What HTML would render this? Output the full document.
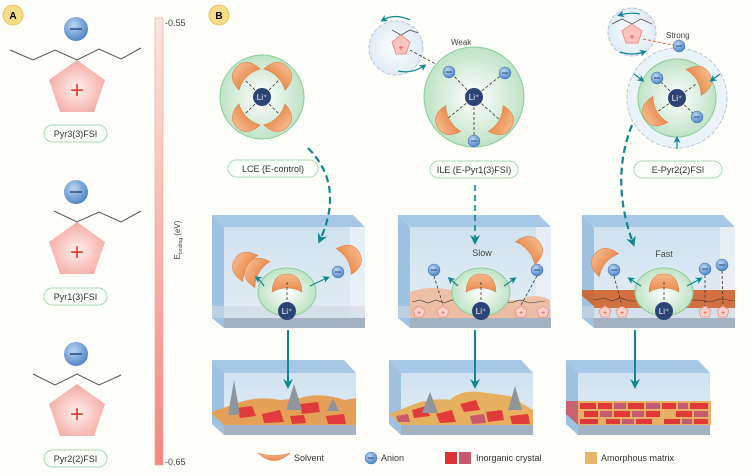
<!DOCTYPE html>
<html><head><meta charset="utf-8"><style>
html,body{margin:0;padding:0;background:#fdfdf9;}
svg{display:block;font-family:"Liberation Sans",sans-serif;}
</style></head><body>
<svg width="750" height="476" viewBox="0 0 750 476" xmlns="http://www.w3.org/2000/svg">
<defs>
<radialGradient id="an" cx="40%" cy="35%" r="65%"><stop offset="0" stop-color="#bcd6f2"/><stop offset="1" stop-color="#4f86c6"/></radialGradient>
<radialGradient id="pent" cx="50%" cy="55%" r="60%"><stop offset="0" stop-color="#fff0ee"/><stop offset="1" stop-color="#f3a39b"/></radialGradient>
<radialGradient id="grn" cx="50%" cy="50%" r="55%"><stop offset="0" stop-color="#ffffff"/><stop offset="1" stop-color="#b9e0c0"/></radialGradient>
<radialGradient id="blu" cx="50%" cy="50%" r="55%"><stop offset="0" stop-color="#ffffff"/><stop offset="1" stop-color="#dceaf3"/></radialGradient>
<linearGradient id="bar" x1="0" y1="0" x2="0" y2="1"><stop offset="0" stop-color="#fde4e1"/><stop offset="1" stop-color="#f2877d"/></linearGradient>
<linearGradient id="sol" x1="0" y1="0" x2="0" y2="1"><stop offset="0" stop-color="#f6b98a"/><stop offset="1" stop-color="#e98a4e"/></linearGradient>
<linearGradient id="glass" x1="0" y1="0" x2="0" y2="1"><stop offset="0" stop-color="#cfe2f0"/><stop offset="1" stop-color="#e2edf4"/></linearGradient>
<g id="anion"><circle r="6" fill="url(#an)" stroke="#3f74b3" stroke-width="0.5"/><line x1="-3" y1="0" x2="3" y2="0" stroke="#1e4a80" stroke-width="1"/></g>
<g id="bigan"><circle r="12" fill="url(#an)"/><line x1="-6" y1="0" x2="6" y2="0" stroke="#1e4a80" stroke-width="1.5"/></g>
<g id="li"><circle r="9" fill="#2c4475"/><text x="0" y="3" font-size="8" fill="#fff" text-anchor="middle">Li⁺</text></g>
<path id="solv" d="M-15,5 Q-14,-13 0,-13 Q14,-13 15,5 Q0,-3 -15,5Z" fill="url(#sol)" stroke="#e08148" stroke-width="0.6"/>
<g id="minipent"><polygon points="0,-6 6,-2 4,5 -4,5 -6,-2" fill="#f9d2cc" stroke="#ee8f86" stroke-width="0.8"/><text x="0" y="3" font-size="7" fill="#e0433a" text-anchor="middle">+</text></g>
<marker id="ah" markerWidth="10" markerHeight="10" refX="6" refY="5" orient="auto" markerUnits="userSpaceOnUse"><path d="M0,0 L10,5 L0,10 L3,5Z" fill="#11878d"/></marker>
<marker id="ahs" markerWidth="7" markerHeight="7" refX="4" refY="3.5" orient="auto" markerUnits="userSpaceOnUse"><path d="M0,0 L7,3.5 L0,7 L2,3.5Z" fill="#11878d"/></marker>
</defs>

<!-- Panel A -->
<circle cx="13" cy="15" r="10" fill="#f8dd88" stroke="#e4c25d"/><text x="13" y="19" font-size="10" font-weight="bold" text-anchor="middle">A</text>
<g>
 <use href="#bigan" x="76" y="29"/>
 <polyline points="10,50 33,60 55,50 77,60 99,49 121,59 141,48" fill="none" stroke="#555" stroke-width="1"/>
 <polygon points="77,60 105,80 94,112 60,112 49,80" fill="url(#pent)"/>
 <text x="77" y="98" font-size="24" fill="#e0433a" text-anchor="middle">+</text>
 <rect x="44" y="125" width="63" height="17" rx="8.5" fill="#fafff9" stroke="#a9d9b1"/>
 <text x="75.5" y="137" font-size="9" text-anchor="middle" fill="#333">Pyr3(3)FSI</text>
</g>
<g>
 <use href="#bigan" x="76" y="192"/>
 <polyline points="54,211 77,222 99,212 121,222 141,211" fill="none" stroke="#555" stroke-width="1"/>
 <polygon points="77,222 105,242 94,274 60,274 49,242" fill="url(#pent)"/>
 <text x="77" y="260" font-size="24" fill="#e0433a" text-anchor="middle">+</text>
 <rect x="44" y="288" width="63" height="17" rx="8.5" fill="#fafff9" stroke="#a9d9b1"/>
 <text x="75.5" y="300" font-size="9" text-anchor="middle" fill="#333">Pyr1(3)FSI</text>
</g>
<g>
 <use href="#bigan" x="76" y="354"/>
 <polyline points="33,374 55,385 77,374 99,385 121,375" fill="none" stroke="#555" stroke-width="1"/>
 <polygon points="77,384 105,404 94,436 60,436 49,404" fill="url(#pent)"/>
 <text x="77" y="422" font-size="24" fill="#e0433a" text-anchor="middle">+</text>
 <rect x="44" y="450" width="63" height="17" rx="8.5" fill="#fafff9" stroke="#a9d9b1"/>
 <text x="75.5" y="462" font-size="9" text-anchor="middle" fill="#333">Pyr2(2)FSI</text>
</g>
<rect x="155" y="18" width="8" height="447" fill="url(#bar)" stroke="#f3a09a" stroke-width="0.6"/>
<text x="165" y="26" font-size="9" fill="#444">-0.55</text>
<text x="165" y="465" font-size="9" fill="#444">-0.65</text>
<text transform="translate(180,240) rotate(-90)" font-size="8" fill="#444" text-anchor="middle">E<tspan font-size="5" dy="2">binding</tspan><tspan dy="-2"> (eV)</tspan></text>

<!-- Panel B -->
<circle cx="219" cy="15" r="10" fill="#f8dd88" stroke="#e4c25d"/><text x="219" y="19" font-size="10" font-weight="bold" text-anchor="middle">B</text>

<!-- LCE cluster -->
<circle cx="262" cy="97" r="42" fill="url(#grn)" stroke="#8ccc98"/>
<g stroke="#333" stroke-dasharray="3,2" stroke-width="0.8"><line x1="262" y1="97" x2="243" y2="78"/><line x1="262" y1="97" x2="281" y2="78"/><line x1="262" y1="97" x2="243" y2="116"/><line x1="262" y1="97" x2="281" y2="116"/></g>
<use href="#solv" transform="translate(246,76) rotate(-45)"/>
<use href="#solv" transform="translate(278,76) rotate(45)"/>
<use href="#solv" transform="translate(246,118) rotate(-135)"/>
<use href="#solv" transform="translate(278,118) rotate(135)"/>
<use href="#li" x="262" y="97"/>
<rect x="228" y="160" width="90" height="17" rx="8.5" fill="#fafff9" stroke="#a9d9b1"/>
<text x="273" y="172" font-size="9" text-anchor="middle" fill="#333">LCE (E-control)</text>

<!-- ILE cluster -->
<circle cx="396" cy="48" r="27" fill="url(#blu)" stroke="#b8c8d4" stroke-dasharray="4,2"/>
<polyline points="392,30 401,35 410,30 418,33" fill="none" stroke="#555" stroke-width="0.8"/>
<polygon points="401,35 410,42 406,54 396,54 392,42" fill="#f9c4bd" stroke="#ee8f86"/>
<text x="401" y="51" font-size="9" fill="#e0433a" text-anchor="middle">+</text>
<path d="M410,20 Q395,13 383,20" fill="none" stroke="#11878d" stroke-width="1.2" marker-end="url(#ahs)"/>
<path d="M398,71 Q412,74 424,66" fill="none" stroke="#11878d" stroke-width="1.2" marker-end="url(#ahs)"/>
<text x="451" y="45" font-size="8" fill="#444">Weak</text>
<line x1="410" y1="50" x2="450" y2="72" stroke="#333" stroke-dasharray="3,2" stroke-width="0.8"/>
<circle cx="474" cy="97" r="50" fill="url(#grn)" stroke="#8ccc98"/>
<g stroke="#333" stroke-dasharray="3,2" stroke-width="0.8"><line x1="474" y1="97" x2="450" y2="72"/><line x1="474" y1="97" x2="504" y2="73"/><line x1="474" y1="97" x2="447" y2="119"/><line x1="474" y1="97" x2="500" y2="120"/><line x1="474" y1="97" x2="474" y2="140"/></g>
<use href="#anion" x="449" y="72"/><use href="#anion" x="505" y="73"/><use href="#anion" x="474" y="141"/>
<use href="#solv" transform="translate(449,121) rotate(-120)"/>
<use href="#solv" transform="translate(500,121) rotate(120)"/>
<use href="#li" x="474" y="97"/>
<rect x="430" y="161" width="88" height="17" rx="8.5" fill="#fafff9" stroke="#a9d9b1"/>
<text x="474" y="173" font-size="9" text-anchor="middle" fill="#333">ILE (E-Pyr1(3)FSI)</text>

<!-- E-Pyr2 cluster -->
<circle cx="632" cy="32" r="24" fill="url(#blu)" stroke="#b8c8d4" stroke-dasharray="4,2"/>
<polyline points="612,24 622,19 632,24 641,19 652,24" fill="none" stroke="#555" stroke-width="0.8"/>
<polygon points="632,24 642,31 638,43 626,43 622,31" fill="#f9c4bd" stroke="#ee8f86"/>
<text x="632" y="40" font-size="9" fill="#e0433a" text-anchor="middle">+</text>
<path d="M640,14 Q630,12 620,15" fill="none" stroke="#11878d" stroke-width="1.2" marker-end="url(#ahs)"/>
<path d="M620,52 Q632,56 644,52" fill="none" stroke="#11878d" stroke-width="1.2" marker-end="url(#ahs)"/>
<line x1="643" y1="39" x2="677" y2="46" stroke="#e06a3a" stroke-dasharray="3,2" stroke-width="1"/>
<text x="666" y="38" font-size="8" fill="#444">Strong</text>
<circle cx="677" cy="98" r="50" fill="#eaf3f8" stroke="#b8c8d4" stroke-dasharray="4,2"/>
<circle cx="677" cy="98" r="39" fill="url(#grn)" stroke="#8ccc98"/>
<use href="#anion" x="679" y="46"/>
<g stroke="#333" stroke-dasharray="3,2" stroke-width="0.8"><line x1="677" y1="98" x2="657" y2="78"/><line x1="677" y1="98" x2="696" y2="84"/><line x1="677" y1="98" x2="657" y2="112"/><line x1="677" y1="98" x2="697" y2="117"/></g>
<use href="#anion" x="657" y="78"/><use href="#anion" x="697" y="117"/>
<use href="#solv" transform="translate(698,80) rotate(60)"/>
<use href="#solv" transform="translate(656,112) rotate(-120)"/>
<use href="#li" x="677" y="98"/>
<line x1="634" y1="74" x2="642" y2="80" stroke="#11878d" stroke-width="1.2" marker-end="url(#ahs)"/>
<line x1="720" y1="74" x2="712" y2="80" stroke="#11878d" stroke-width="1.2" marker-end="url(#ahs)"/>
<line x1="677" y1="149" x2="677" y2="139" stroke="#11878d" stroke-width="1.2" marker-end="url(#ahs)"/>
<rect x="634" y="161" width="88" height="17" rx="8.5" fill="#fafff9" stroke="#a9d9b1"/>
<text x="678" y="173" font-size="9" text-anchor="middle" fill="#333">E-Pyr2(2)FSI</text>

<!-- Middle boxes -->
<g id="box1">
 <polygon points="212,215 353,215 365,227 224,227" fill="#a7c8e4"/>
 <rect x="224" y="227" width="141" height="91" fill="url(#glass)"/>
 <polygon points="212,215 224,227 224,328 212,318" fill="#9fc2e0"/>
 <rect x="350" y="227" width="15" height="91" fill="#eef3f6" opacity="0.7"/>
 <rect x="224" y="318" width="141" height="10" fill="#a3b1c1"/>
 <rect x="212" y="306" width="153" height="12" fill="#cfd8e2" opacity="0.6"/>
</g>
<use href="#box1" x="186"/>
<use href="#box1" x="370"/>

<!-- box1 contents -->
<use href="#solv" transform="translate(246,266) rotate(-60)"/>
<use href="#solv" transform="translate(258,272) rotate(-60)"/>
<use href="#solv" transform="translate(348,259) rotate(60)"/>
<use href="#anion" x="338" y="272"/>
<ellipse cx="287" cy="292" rx="29" ry="24" fill="url(#grn)" stroke="#8ccc98"/>
<use href="#solv" transform="translate(287,287)"/>
<line x1="287" y1="282" x2="287" y2="304" stroke="#333" stroke-dasharray="3,2" stroke-width="0.8"/>
<use href="#li" x="287" y="311"/>
<path d="M264,286 Q260,280 257,278" fill="none" stroke="#11878d" stroke-width="1.2" marker-end="url(#ahs)"/>
<path d="M310,286 Q318,282 327,278" fill="none" stroke="#11878d" stroke-width="1.2" marker-end="url(#ahs)"/>

<!-- box2 contents -->
<path d="M410,318 L410,292 Q430,285 450,290 Q470,283 480,300 L520,300 Q535,292 550,300 L550,318Z" fill="#f0b493" opacity="0.8"/>
<polyline points="412,302 420,300 428,303 436,300 444,303 452,300 460,302 500,301 510,303 520,300 530,303 545,301" fill="none" stroke="#333" stroke-width="0.6"/>
<use href="#minipent" x="419" y="312"/><use href="#minipent" x="443" y="312"/><use href="#minipent" x="521" y="312"/><use href="#minipent" x="543" y="312"/>
<text x="482" y="256" font-size="9" fill="#444" text-anchor="middle">Slow</text>
<use href="#anion" x="434" y="270"/><use href="#anion" x="537" y="270"/>
<line x1="434" y1="276" x2="443" y2="305" stroke="#333" stroke-dasharray="3,2" stroke-width="0.8"/>
<line x1="537" y1="276" x2="521" y2="305" stroke="#333" stroke-dasharray="3,2" stroke-width="0.8"/>
<use href="#solv" transform="translate(529,250) rotate(50)"/>
<ellipse cx="481" cy="292" rx="29" ry="24" fill="url(#grn)" stroke="#8ccc98"/>
<use href="#solv" transform="translate(481,287)"/>
<line x1="481" y1="282" x2="481" y2="304" stroke="#333" stroke-dasharray="3,2" stroke-width="0.8"/>
<use href="#li" x="481" y="311"/>
<path d="M458,286 L450,279" fill="none" stroke="#11878d" stroke-width="1.2" marker-end="url(#ahs)"/>
<path d="M504,286 L514,279" fill="none" stroke="#11878d" stroke-width="1.2" marker-end="url(#ahs)"/>

<!-- box3 contents -->
<rect x="594" y="290" width="141" height="18" fill="#d2713f"/>
<polygon points="582,290 594,290 594,306 582,296" fill="#c96a3c"/>
<polyline points="594,300 604,298 612,301 620,298 630,301 700,300 710,302 720,299 735,301" fill="none" stroke="#333" stroke-width="0.6"/>
<use href="#minipent" x="605" y="312"/><use href="#minipent" x="622" y="312"/><use href="#minipent" x="705" y="312"/><use href="#minipent" x="723" y="312"/>
<text x="664" y="257" font-size="9" fill="#444" text-anchor="middle">Fast</text>
<use href="#solv" transform="translate(605,262) rotate(-50)"/>
<use href="#anion" x="614" y="270"/><use href="#anion" x="705" y="269"/><use href="#anion" x="722" y="265"/>
<line x1="614" y1="276" x2="622" y2="306" stroke="#333" stroke-dasharray="3,2" stroke-width="0.8"/>
<line x1="705" y1="275" x2="705" y2="306" stroke="#333" stroke-dasharray="3,2" stroke-width="0.8"/>
<line x1="722" y1="271" x2="723" y2="306" stroke="#333" stroke-dasharray="3,2" stroke-width="0.8"/>
<ellipse cx="664" cy="292" rx="29" ry="24" fill="url(#grn)" stroke="#8ccc98"/>
<use href="#solv" transform="translate(664,287)"/>
<line x1="664" y1="282" x2="664" y2="304" stroke="#333" stroke-dasharray="3,2" stroke-width="0.8"/>
<use href="#li" x="664" y="311"/>
<path d="M641,286 L630,279" fill="none" stroke="#11878d" stroke-width="1.2" marker-end="url(#ahs)"/>
<path d="M687,286 L700,279" fill="none" stroke="#11878d" stroke-width="1.2" marker-end="url(#ahs)"/>

<!-- Bottom boxes -->
<g id="box2">
 <polygon points="212,360 344,360 356,373 224,373" fill="#a7c8e4"/>
 <rect x="224" y="373" width="132" height="53" fill="url(#glass)"/>
 <polygon points="212,360 224,373 224,435 212,424" fill="#9fc2e0"/>
 <rect x="224" y="425" width="132" height="10" fill="#a3b1c1"/>
</g>
<use href="#box2" x="177"/>
<use href="#box2" x="354"/>
<!-- SEI 1 -->
<path d="M212,412 L240,402 Q260,396 280,400 L300,398 Q320,392 345,400 L356,398 L356,425 L224,425 L212,414Z" fill="#e5a057"/>
<g fill="#e03a3a"><polygon points="236,408 252,406 256,416 240,418"/><polygon points="262,414 280,410 284,422 264,423"/><polygon points="300,404 318,402 320,412 302,414"/><polygon points="326,416 344,414 346,424 328,424"/><polygon points="290,416 304,415 306,423 292,424"/></g>
<polygon points="228,415 234,380 240,415" fill="#8e959c"/><polygon points="286,410 294,384 302,410" fill="#8e959c"/><polygon points="327,411 333,398 339,411" fill="#8e959c"/>
<!-- SEI 2 -->
<path d="M389,414 L420,402 Q440,398 450,400 Q460,390 480,392 L510,396 L533,410 L533,425 L401,425 L389,414Z" fill="#e7b060"/>
<g fill="#e03a3a"><polygon points="412,410 426,406 430,416 414,418"/><polygon points="436,414 452,410 456,422 440,423"/><polygon points="460,404 476,400 480,410 464,412"/><polygon points="486,412 502,410 504,420 488,422"/><polygon points="510,416 528,414 530,424 512,424"/></g>
<g fill="#c85a6e"><polygon points="470,416 484,414 486,423 472,424"/><polygon points="396,416 408,414 410,422 398,422"/></g>
<polygon points="422,413 430,392 438,413" fill="#8e959c"/><polygon points="508,410 515,386 522,410" fill="#8e959c"/>
<!-- SEI 3 -->
<rect x="578" y="401" width="133" height="24" fill="#e8b066"/>
<polygon points="566,401 578,401 578,425 566,414" fill="#c8646e"/>
<g fill="#de3838">
<rect x="580" y="403" width="16" height="6"/><rect x="598" y="403" width="14" height="6"/><rect x="628" y="403" width="16" height="6"/><rect x="662" y="403" width="14" height="6"/><rect x="690" y="403" width="18" height="6"/>
<rect x="584" y="411" width="14" height="6"/><rect x="614" y="411" width="16" height="6"/><rect x="646" y="411" width="14" height="6"/><rect x="676" y="411" width="16" height="6"/>
<rect x="580" y="419" width="18" height="5"/><rect x="606" y="419" width="14" height="5"/><rect x="636" y="419" width="16" height="5"/><rect x="664" y="419" width="16" height="5"/><rect x="694" y="419" width="14" height="5"/></g>
<g fill="#c55a70"><rect x="614" y="403" width="12" height="6"/><rect x="646" y="403" width="14" height="6"/><rect x="678" y="403" width="10" height="6"/><rect x="600" y="411" width="12" height="6"/><rect x="632" y="411" width="12" height="6"/><rect x="694" y="411" width="14" height="6"/><rect x="622" y="419" width="12" height="5"/><rect x="682" y="419" width="10" height="5"/></g>

<!-- Arrows on top -->
<path d="M308,148 Q345,185 320,240" fill="none" stroke="#11878d" stroke-width="2.2" stroke-dasharray="7,4" marker-end="url(#ah)"/>
<line x1="475" y1="185" x2="475" y2="241" stroke="#11878d" stroke-width="2.2" stroke-dasharray="6,4" stroke-opacity="0.8" marker-end="url(#ah)"/>
<path d="M632,125 Q610,180 633,243" fill="none" stroke="#11878d" stroke-width="2.2" stroke-dasharray="7,4" marker-end="url(#ah)"/>
<line x1="288" y1="330" x2="288" y2="385" stroke="#11878d" stroke-width="2" marker-end="url(#ah)"/>
<line x1="475" y1="330" x2="475" y2="385" stroke="#11878d" stroke-width="2" marker-end="url(#ah)"/>
<line x1="635" y1="330" x2="635" y2="385" stroke="#11878d" stroke-width="2" marker-end="url(#ah)"/>

<!-- Legend -->
<path d="M258,453 Q274,468 290,453 Q274,458 258,453Z" fill="url(#sol)" stroke="#e08148" stroke-width="0.6"/>
<text x="294" y="461" font-size="9" fill="#333">Solvent</text>
<use href="#anion" x="371" y="458"/>
<text x="381" y="461" font-size="9" fill="#333">Anion</text>
<rect x="445" y="452" width="12" height="12" fill="#df3236"/><rect x="459" y="452" width="12" height="12" fill="#c65a6c"/>
<text x="476" y="461" font-size="9" fill="#333">Inorganic crystal</text>
<rect x="585" y="452" width="12" height="12" fill="#e7b66a"/>
<text x="601" y="461" font-size="9" fill="#333">Amorphous matrix</text>
</svg>
</body></html>
